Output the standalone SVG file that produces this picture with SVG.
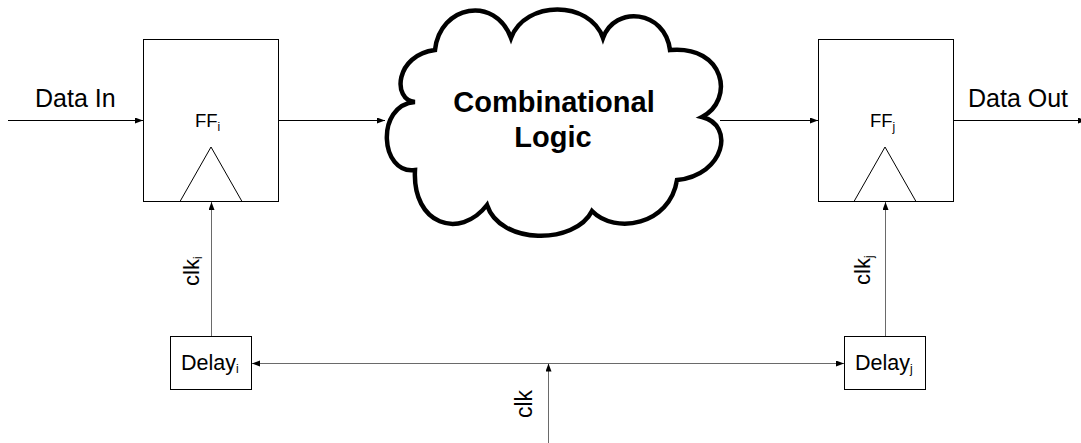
<svg xmlns="http://www.w3.org/2000/svg" width="1081" height="443" viewBox="0 0 1081 443">
<style>
text{font-family:"Liberation Sans",Arial,sans-serif;fill:#000}
.box{fill:#fff;stroke:#000;stroke-width:1}
.wire{fill:none;stroke:#000;stroke-width:1}
.clkw{fill:none;stroke:#6a6a6a;stroke-width:1}
.lbl{font-size:25px}
.ff{font-size:18.5px}
.dl{font-size:21.5px}
.ck{font-size:22px}
.sub{font-size:12px}
</style>
<defs>
<marker id="ah" markerUnits="userSpaceOnUse" markerWidth="9" markerHeight="7" refX="8" refY="3" orient="auto-start-reverse">
<path d="M0,0 L8,3 L0,6 z" fill="#000"/>
</marker>
</defs>
<rect width="1081" height="443" fill="#fff"/>
<g id="connectors">
<line class="wire" x1="8" y1="120.5" x2="143" y2="120.5" marker-end="url(#ah)"/>
<line class="wire" x1="278" y1="120.5" x2="385" y2="120.5" marker-end="url(#ah)"/>
<line class="wire" x1="720" y1="120.5" x2="818" y2="120.5" marker-end="url(#ah)"/>
<line class="wire" x1="953" y1="120.5" x2="1086" y2="120.5" marker-end="url(#ah)"/>
<line class="clkw" x1="211.5" y1="336" x2="211.5" y2="202" marker-end="url(#ah)"/>
<line class="clkw" x1="885.5" y1="336" x2="885.5" y2="202" marker-end="url(#ah)"/>
<line class="clkw" x1="252" y1="363.5" x2="844" y2="363.5" marker-start="url(#ah)" marker-end="url(#ah)"/>
<line class="clkw" x1="548.5" y1="443" x2="548.5" y2="363.5" marker-end="url(#ah)"/>
<text class="lbl" x="35" y="107">Data In</text>
<text class="lbl" x="968" y="107">Data Out</text>
<text class="ck" transform="translate(199,286) rotate(-90)">clk<tspan class="sub" dy="3">i</tspan></text>
<text class="ck" transform="translate(870,285) rotate(-90)">clk<tspan class="sub" dy="3">j</tspan></text>
<text class="ck" style="font-size:23px" transform="translate(532,418) rotate(-90)">clk</text>
</g>
<g id="ffi">
<rect class="box" x="143.5" y="39.5" width="135" height="162"/>
<path class="wire" d="M180,201.5 L211,147 L242,201.5"/>
<text class="ff" x="195" y="127">FF<tspan class="sub" dy="4">i</tspan></text>
</g>
<g id="logic">
<path d="M415,102 C392,100 395,55 435,50 C440,5 495,-5 511,38 C525,0 590,0 603,38 C615,5 665,10 670,50 C725,45 735,100 702,117 C735,125 725,175 677,180 C670,225 615,235 592,211 C575,245 500,245 487,205 C460,240 412,225 415,170 C380,175 375,105 415,102 Z" fill="#fff" stroke="#000" stroke-width="4.5" stroke-linejoin="miter"/>
<text x="554" y="112" text-anchor="middle" style="font-size:29px;font-weight:bold">Combinational</text>
<text x="553" y="147" text-anchor="middle" style="font-size:29px;font-weight:bold">Logic</text>
</g>
<g id="ffj">
<rect class="box" x="818.5" y="39.5" width="135" height="162"/>
<path class="wire" d="M854,201.5 L885,147 L916,201.5"/>
<text class="ff" x="870" y="127">FF<tspan class="sub" dy="4">j</tspan></text>
</g>
<g id="delayi">
<rect class="box" x="170.5" y="336.5" width="81" height="53"/>
<text class="dl" x="181" y="370">Delay<tspan class="sub" dy="3">i</tspan></text>
</g>
<g id="delayj">
<rect class="box" x="844.5" y="336.5" width="81" height="53"/>
<text class="dl" x="855" y="370">Delay<tspan class="sub" dy="3">j</tspan></text>
</g>
</svg>
